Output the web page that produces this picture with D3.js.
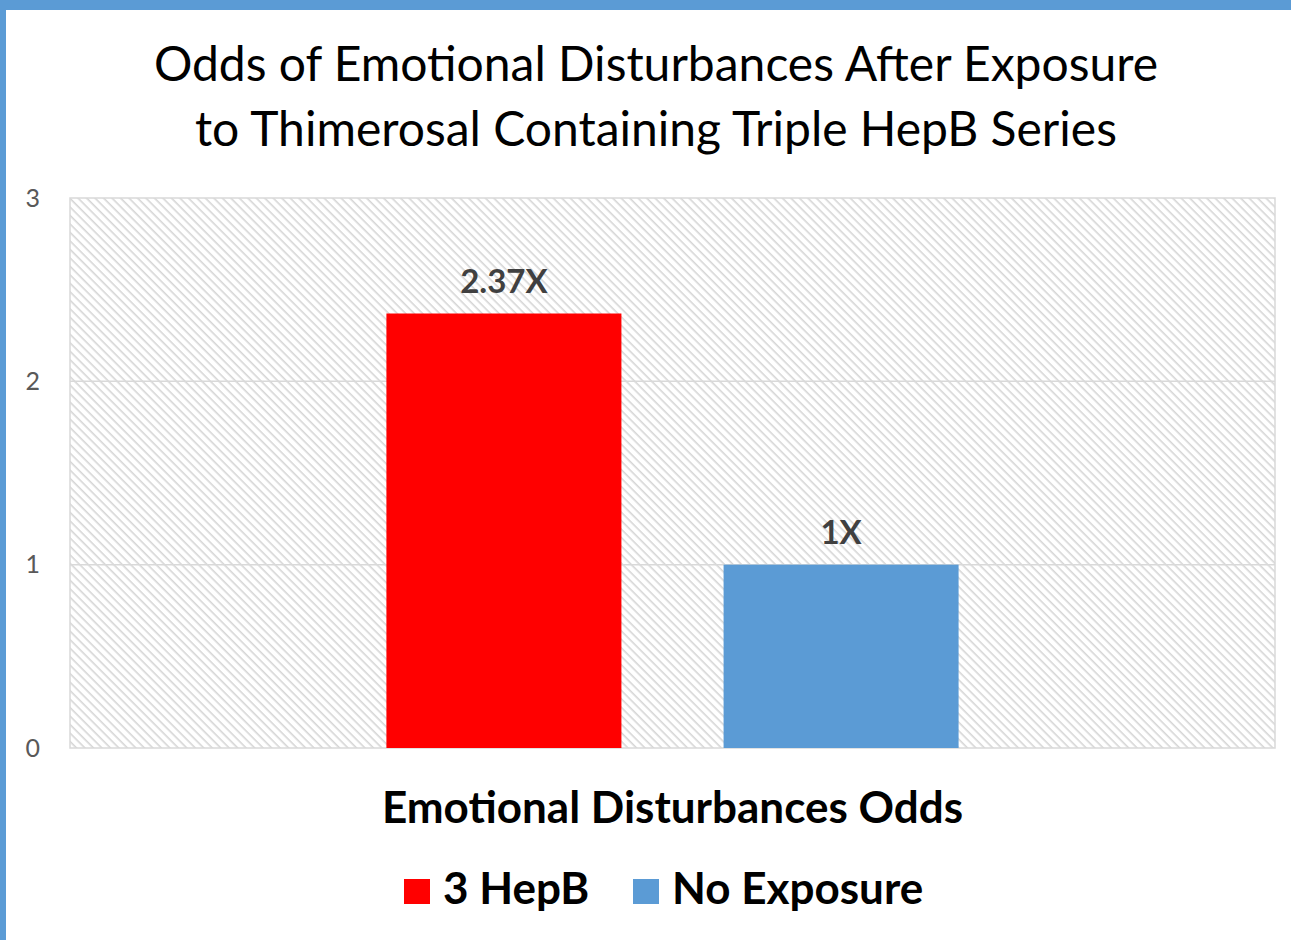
<!DOCTYPE html>
<html>
<head>
<meta charset="utf-8">
<script src="https://cdn.jsdelivr.net/npm/d3@7"></script>
<style>
  body { margin: 0; background: #fff; }
  text { font-family: Lato, "Open Sans", sans-serif; }
</style>
</head>
<body>
<svg width="1291" height="940"></svg>
<script>
var width = 1291;
var height = 940;
var margin = {left: 70, right: 16, top: 198, bottom: 192};

// data
var categories = ['Emotional Disturbances Odds'];
var seriesNames = ['3 HepB', 'No Exposure'];
var seriesValues = [2.37, 1];
var valueLabels = ['2.37X', '1X'];
var seriesColors = ['#ff0000', '#5b9bd5'];
var yTicks = [0, 1, 2, 3];
var titleLines = ['Odds of Emotional Disturbances After Exposure',
                  'to Thimerosal Containing Triple HepB Series'];

var svg = d3.select('svg');

// frame
svg.append('rect').attr('x', 0).attr('y', 0).attr('width', width).attr('height', 10).attr('fill', '#5b9bd5');
svg.append('rect').attr('x', 0).attr('y', 0).attr('width', 6).attr('height', height).attr('fill', '#5b9bd5');

// hatch pattern for the plot area
var defs = svg.append('defs');
var pat = defs.append('pattern')
  .attr('id', 'hatch')
  .attr('patternUnits', 'userSpaceOnUse')
  .attr('width', 6)
  .attr('height', 6)
  .attr('patternTransform', 'rotate(45)');
pat.append('rect').attr('width', 6).attr('height', 6).attr('fill', '#ffffff');
pat.append('line')
  .attr('x1', 0).attr('y1', 0).attr('x2', 6).attr('y2', 0)
  .attr('stroke', '#d6d6d6').attr('stroke-width', 3.2);

var x0 = d3.scaleBand().domain(categories)
  .range([margin.left, width - margin.right])
  .paddingOuter(0.553);
var x1 = d3.scaleBand().domain(seriesNames)
  .range([0, x0.bandwidth()])
  .paddingInner(0.303);
var y = d3.scaleLinear().domain([0, 3]).range([height - margin.bottom, margin.top]);

var plotLeft = margin.left, plotRight = width - margin.right;

svg.append('rect')
  .attr('x', plotLeft)
  .attr('y', y(3))
  .attr('width', plotRight - plotLeft)
  .attr('height', y(0) - y(3))
  .attr('fill', 'url(#hatch)')
  .attr('stroke', '#d9d9d9')
  .attr('stroke-width', 1.5);

// gridlines
svg.append('g')
  .selectAll('line')
  .data(yTicks.filter(function(t) { return t > 0 && t < 3; }))
  .enter()
  .append('line')
  .attr('x1', plotLeft).attr('x2', plotRight)
  .attr('y1', function(d) { return y(d); })
  .attr('y2', function(d) { return y(d); })
  .attr('stroke', '#d9d9d9')
  .attr('stroke-width', 1.5);

// y axis labels
var axisLeft = d3.axisLeft(y).tickValues(yTicks).tickSize(0).tickPadding(30).tickFormat(d3.format('d'));
var ya = svg.append('g')
  .attr('transform', 'translate(' + plotLeft + ',0)')
  .call(axisLeft);
ya.select('.domain').remove();
ya.selectAll('text')
  .style('font-size', '25px')
  .style('font-family', 'Lato, sans-serif')
  .attr('fill', '#595959');

// bars
var group = svg.append('g')
  .attr('transform', 'translate(' + x0(categories[0]) + ',0)');

group.selectAll('rect')
  .data(seriesValues)
  .enter()
  .append('rect')
  .attr('x', function(d, i) { return x1(seriesNames[i]); })
  .attr('y', function(d) { return y(d); })
  .attr('width', x1.bandwidth())
  .attr('height', function(d) { return y(0) - y(d); })
  .attr('fill', function(d, i) { return seriesColors[i]; });

group.selectAll('text.value')
  .data(seriesValues)
  .enter()
  .append('text')
  .attr('class', 'value')
  .attr('x', function(d, i) { return x1(seriesNames[i]) + x1.bandwidth() / 2; })
  .attr('y', function(d) { return y(d) - 21; })
  .attr('text-anchor', 'middle')
  .style('font-size', '33px')
  .style('font-weight', 'bold')
  .attr('fill', '#404040')
  .text(function(d, i) { return valueLabels[i]; });

// title
svg.append('g')
  .selectAll('text')
  .data(titleLines)
  .enter()
  .append('text')
  .attr('x', 656)
  .attr('y', function(d, i) { return 81 + i * 65; })
  .attr('text-anchor', 'middle')
  .style('font-size', '48px')
  .attr('fill', '#000')
  .text(function(d) { return d; });

// category axis title
svg.append('text')
  .attr('x', x0(categories[0]) + x0.bandwidth() / 2)
  .attr('y', 823)
  .attr('text-anchor', 'middle')
  .style('font-size', '44px')
  .style('font-weight', 'bold')
  .attr('fill', '#000')
  .text(categories[0]);

// legend
var legendX = [404, 633];
var legend = svg.append('g')
  .selectAll('g')
  .data(seriesNames)
  .enter()
  .append('g')
  .attr('transform', function(d, i) { return 'translate(' + legendX[i] + ',879)'; });
legend.append('rect')
  .attr('width', 26).attr('height', 25)
  .attr('fill', function(d, i) { return seriesColors[i]; });
legend.append('text')
  .attr('x', 39)
  .attr('y', 25)
  .style('font-size', '44px')
  .style('font-weight', 'bold')
  .attr('fill', '#000')
  .text(function(d) { return d; });
</script>
</body>
</html>
